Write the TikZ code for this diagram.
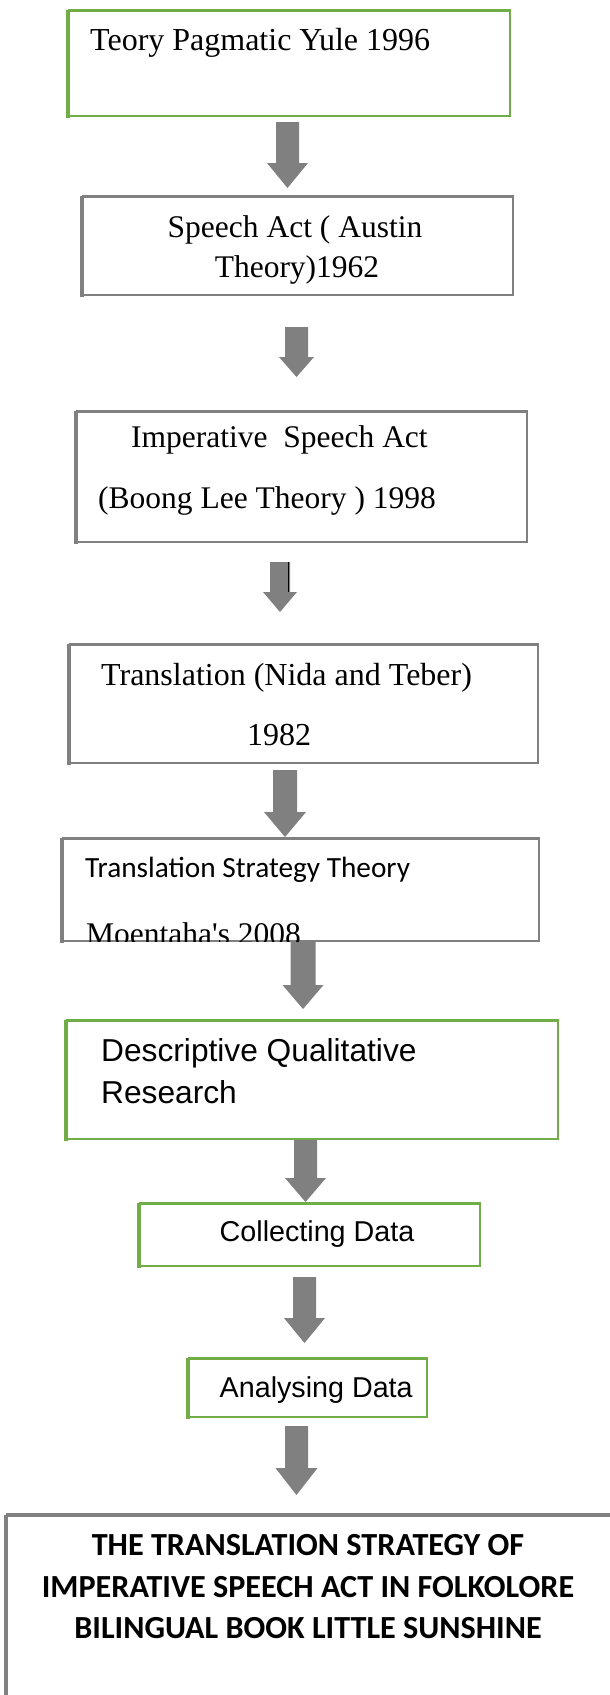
\documentclass[tikz,border=0pt]{standalone}
\usepackage{fontspec}
\newfontfamily\tnrfont{Liberation Serif}
\newfontfamily\calfont{Carlito}
\newfontfamily\arifont{Liberation Sans}
\definecolor{boxgreen}{HTML}{70AD47}
\definecolor{boxgray}{HTML}{808080}
\definecolor{arrowgray}{HTML}{808080}
\newcommand\flowarrow[7]{%
  \fill[arrowgray] (#2-#6,#3) -- (#2+#6,#3) -- (#2+#6,#4) -- (#2+#7,#4) -- (#2,#5) -- (#2-#7,#4) -- (#2-#6,#4) -- cycle;
  \coordinate (#1) at (#2,#5);}
\newcommand\heavyedge[2]{%
  \draw[#2,line width=4pt] ([yshift=-1pt]#1.south west) -- ([yshift=0pt]#1.north west);
  \draw[#2,line width=3pt] (#1.north west) -- (#1.north east);}
\tikzset{
  box/.style={draw, line width=2pt, inner sep=0pt, fill=white},
  txt/.style={anchor=base west, inner sep=0pt},
  ctxt/.style={anchor=base, inner sep=0pt},
}
\begin{document}
\begin{tikzpicture}[x=1pt,y=-1pt]
\clip (0,0) rectangle (610,1695);
\fill[white] (0,0) rectangle (610,1695);
% box 1
\node[box, draw=boxgreen, minimum width=441pt, minimum height=105pt] (b1) at (289.5,63.5) {};
\heavyedge{b1}{boxgreen}
\node[txt] (t1) at (90,50) {\tnrfont\fontsize{32}{32}\selectfont Teory Pagmatic Yule 1996};
\flowarrow{a1}{287.5}{122}{163}{188}{11.5}{20.5}
% box 2
\node[box, draw=boxgray, minimum width=430pt, minimum height=98pt] (b2) at (298,246) {};
\heavyedge{b2}{boxgray}
\node[ctxt] (t2a) at (295,237) {\tnrfont\fontsize{31.5}{31.5}\selectfont Speech Act ( Austin};
\node[ctxt] (t2b) at (297,277) {\tnrfont\fontsize{31.5}{31.5}\selectfont Theory)1962};
\flowarrow{a2}{296.5}{327}{357}{377}{11.5}{17.5}
% box 3
\node[box, draw=boxgray, minimum width=450pt, minimum height=130pt] (b3) at (302,477) {};
\heavyedge{b3}{boxgray}
\node[txt] (t3a) at (131,447) {\tnrfont\fontsize{31.5}{31.5}\selectfont Imperative\ \ Speech Act};
\node[txt] (t3b) at (98,508) {\tnrfont\fontsize{31.5}{31.5}\selectfont (Boong Lee Theory ) 1998};
\flowarrow{a3}{280}{562}{592}{612}{10}{17}
\draw[black, line width=1.5pt] (288.5,562) -- (288.5,592);
% box 4
\node[box, draw=boxgray, minimum width=468pt, minimum height=118pt] (b4) at (304,704) {};
\heavyedge{b4}{boxgray}
\node[txt] (t4a) at (101,685) {\tnrfont\fontsize{32}{32}\selectfont Translation (Nida and Teber)};
\node[txt] (t4b) at (247,745) {\tnrfont\fontsize{32}{32}\selectfont 1982};
\flowarrow{a4}{285}{770}{812}{837}{12}{21}
% box 5
\node[box, draw=boxgray, minimum width=476pt, minimum height=102pt] (b5) at (301,890) {};
\heavyedge{b5}{boxgray}
\node[txt] (t5a) at (85,877) {\calfont\fontsize{29.3}{29.3}\selectfont Translation Strategy Theory};
\begin{scope}
\clip (63,839) rectangle (539,941);
\node[txt] (t5b) at (86,944) {\tnrfont\fontsize{31.5}{31.5}\selectfont Moentaha's 2008};
\end{scope}
\flowarrow{a5}{303}{942}{985}{1009}{12.5}{20.5}
% box 6
\node[box, draw=boxgreen, minimum width=491pt, minimum height=118pt] (b6) at (312.5,1080) {};
\heavyedge{b6}{boxgreen}
\node[txt] (t6a) at (101,1061) {\arifont\fontsize{31.7}{31.7}\selectfont Descriptive Qualitative};
\node[txt] (t6b) at (101,1103) {\arifont\fontsize{31.7}{31.7}\selectfont Research};
\flowarrow{a6}{305.5}{1140}{1178}{1202}{11.5}{20.5}
% box 7
\node[box, draw=boxgreen, minimum width=340pt, minimum height=62pt] (b7) at (310,1235) {};
\heavyedge{b7}{boxgreen}
\node[txt] (t7) at (219.5,1241) {\arifont\fontsize{28.7}{28.7}\selectfont Collecting Data};
\flowarrow{a7}{304.5}{1277}{1318}{1343}{11.5}{20.5}
% box 8
\node[box, draw=boxgreen, minimum width=238pt, minimum height=58pt] (b8) at (308,1388) {};
\heavyedge{b8}{boxgreen}
\node[txt] (t8) at (219.5,1397) {\arifont\fontsize{28.7}{28.7}\selectfont Analysing Data};
\flowarrow{a8}{296.5}{1426}{1468}{1495}{11.5}{21}
% box 9
\node[box, draw=boxgray, minimum width=605pt, minimum height=200pt] (b9) at (309.5,1615.5) {};
\heavyedge{b9}{boxgray}
\node[ctxt] (t9a) at (308,1555) {\calfont\bfseries\fontsize{32.2}{32.2}\selectfont THE TRANSLATION STRATEGY OF};
\node[ctxt] (t9b) at (308,1597) {\calfont\bfseries\fontsize{32.2}{32.2}\selectfont IMPERATIVE SPEECH ACT IN FOLKOLORE};
\node[ctxt] (t9c) at (308,1638) {\calfont\bfseries\fontsize{32.2}{32.2}\selectfont BILINGUAL BOOK LITTLE SUNSHINE};
\end{tikzpicture}
\end{document}
